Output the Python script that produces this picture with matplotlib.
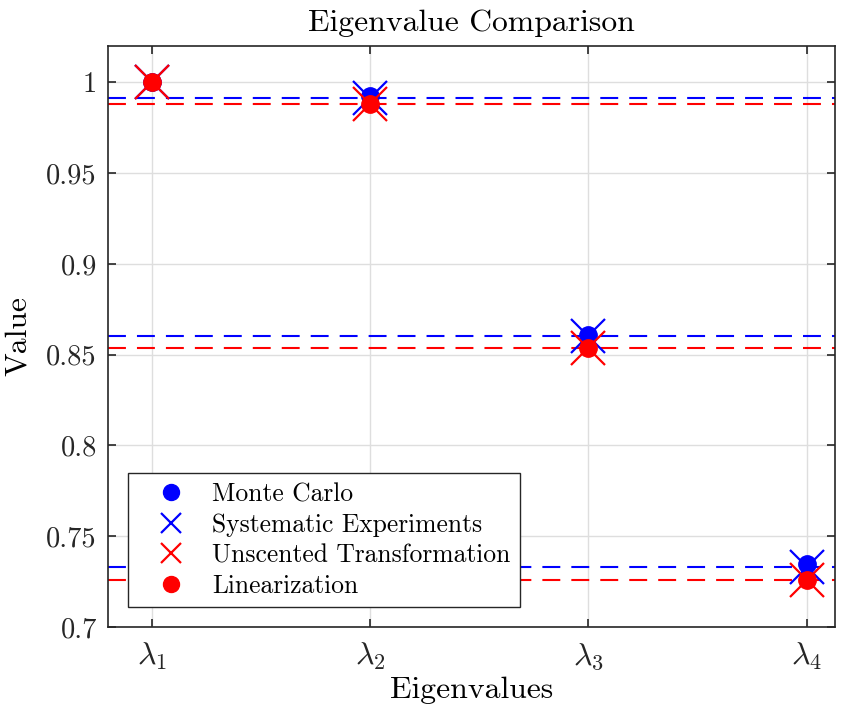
import matplotlib
matplotlib.use("Agg")
import matplotlib.pyplot as plt

plt.rcParams['font.family'] = 'serif'
plt.rcParams['font.serif'] = ['cmr10']
plt.rcParams['mathtext.fontset'] = 'cm'
plt.rcParams['axes.formatter.use_mathtext'] = True

# Eigenvalue estimates from each method
eig_labels = [r'$\lambda_1$', r'$\lambda_2$', r'$\lambda_3$', r'$\lambda_4$']
monte_carlo = [1.0, 0.9925, 0.8606, 0.7347]
systematic = [1.0, 0.9912, 0.8604, 0.7330]
unscented = [1.0, 0.9878, 0.8535, 0.7258]
linearization = [1.0, 0.9880, 0.8536, 0.7259]

y_ticks = [0.7, 0.75, 0.8, 0.85, 0.9, 0.95, 1.0]
y_tick_labels = ['0.7', '0.75', '0.8', '0.85', '0.9', '0.95', '1']

x = list(range(1, len(eig_labels) + 1))
blue = (0, 0, 1)
red = (1, 0, 0)
axis_gray = (0.15, 0.15, 0.15)

fig = plt.figure(figsize=(8.49, 7.04), dpi=100)
ax = fig.add_axes([0.1272, 0.1094, 0.8563, 0.8253])

# Reference levels for the non-unit eigenvalues
dash = (0, (8.6, 5.3))
for v in systematic[1:]:
    ax.axhline(v, color=blue, lw=1.5, ls=dash, zorder=2)
for v in unscented[1:]:
    ax.axhline(v, color=red, lw=1.5, ls=dash, zorder=2)

ax.plot(x, monte_carlo, 'o', color=blue, ms=12.5, ls='none', label='Monte Carlo', zorder=3)
ax.plot(x, systematic, 'x', color=blue, ms=25, mew=1.6, ls='none', label='Systematic Experiments', zorder=4)
ax.plot(x, unscented, 'x', color=red, ms=25, mew=1.6, ls='none', label='Unscented Transformation', zorder=5)
ax.plot(x, linearization, 'o', color=red, ms=12.5, ls='none', label='Linearization', zorder=6)

ax.set_xlim(0.8, 4.13)
ax.set_ylim(0.7, 1.02)
ax.set_xticks(x)
ax.set_xticklabels(eig_labels, fontsize=23)
ax.set_yticks(y_ticks)
ax.set_yticklabels(y_tick_labels, fontsize=20.5)

ax.grid(True, color=(0.87, 0.87, 0.87), lw=1.0, zorder=0)
ax.set_axisbelow(True)
ax.tick_params(direction='in', top=True, right=True, length=6, width=1.2,
               colors=axis_gray, labelcolor=axis_gray)
ax.tick_params(axis='x', pad=10)
ax.tick_params(axis='y', pad=8)
for s in ax.spines.values():
    s.set_color(axis_gray)
    s.set_linewidth(1.2)

ax.set_title('Eigenvalue Comparison', fontsize=22.8, pad=11)
ax.set_xlabel('Eigenvalues', fontsize=22.8, labelpad=3)
ax.set_ylabel('Value', fontsize=22.8, labelpad=10)

leg = ax.legend(loc='lower left', bbox_to_anchor=(0.0275, 0.0344), borderaxespad=0,
                fontsize=18.4, fancybox=False, framealpha=1, edgecolor=axis_gray,
                handletextpad=0.3, labelspacing=0.27, borderpad=0.35, handlelength=2.65)
leg.get_frame().set_linewidth(1.0)
for h in leg.legend_handles:
    if h.get_marker() == 'o':
        h.set_markersize(11.5)
    else:
        h.set_markersize(14)

fig.savefig('out.png', dpi=100)
